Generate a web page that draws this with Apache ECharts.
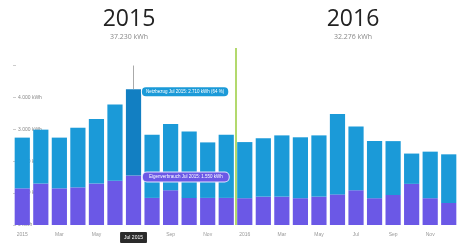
<!DOCTYPE html>
<html>
<head>
<meta charset="utf-8">
<script src="https://cdn.jsdelivr.net/npm/echarts@6/dist/echarts.min.js"></script>
<style>
html, body { margin: 0; padding: 0; background: #fff; }
#chart { width: 458px; height: 243px; }
</style>
</head>
<body>
<div id="chart"></div>
<script>
// months, the axis only labels every other one
var months = ['2015','Feb','Mar','Apr','May','Jun','Jul 2015','Aug','Sep','Oct','Nov','Dec',
              '2016','Feb','Mar','Apr','May','Jun','Jul','Aug','Sep','Oct','Nov','Dec'];

// kWh per month, purple part at the bottom, blue part stacked on top
var purple2015 = [1150, 1300, 1150, 1180, 1300, 1390, 1550, 850, 1090, 850, 850, 850];
var blue2015   = [1590, 1690, 1590, 1870, 2020, 2390, 2710, 1980, 2080, 2080, 1740, 1980];
var purple2016 = [840, 890, 890, 840, 890, 960, 1090, 840, 940, 1290, 840, 690];
var blue2016   = [1760, 1830, 1920, 1910, 1920, 2520, 2000, 1790, 1690, 950, 1460, 1526];

var yearTitles = ['2015', '2016'];
var yearTotals = ['37.230 kWh', '32.276 kWh'];

var selected = 6; // Jul 2015
var blueLabel = 'Netzbezug Jul 2015: 2.710 kWh (64 %)';
var purpleLabel = 'Eigenverbrauch Jul 2015: 1.550 kWh';

var chart = echarts.init(document.getElementById('chart'));

var purpleData = purple2015.concat(purple2016);
var blueData = blue2015.concat(blue2016);

var blueSeriesData = blueData.map(function(v, i){
	if(i !== selected) return v;
	return {
		value: v,
		itemStyle: { color: '#127fc2' },
		label: {
			show: true,
			position: [16, -2],
			formatter: blueLabel,
			backgroundColor: '#1b9ad8',
			borderColor: '#fff',
			borderWidth: 1,
			borderRadius: 4,
			padding: [2, 4],
			color: '#fff',
			fontSize: 4.5
		}
	};
});

var purpleSeriesData = purpleData.map(function(v, i){
	if(i !== selected) return v;
	return {
		value: v,
		label: {
			show: true,
			position: [17, -3],
			formatter: purpleLabel,
			backgroundColor: '#6b58e6',
			borderColor: '#e8e4ff',
			borderWidth: 1,
			borderRadius: 4,
			padding: [2, 6],
			color: '#fff',
			fontSize: 4.5
		}
	};
});

var option = {
	animation: false,
	title: [{
		text: yearTitles[0],
		subtext: yearTotals[0],
		left: 124,
		top: 3,
		textAlign: 'center',
		itemGap: 2,
		textStyle: { fontSize: 23, fontWeight: 'normal', color: '#222', fontFamily: 'Open Sans' },
		subtextStyle: { fontSize: 7, color: '#888', fontFamily: 'Open Sans' }
	}, {
		text: yearTitles[1],
		subtext: yearTotals[1],
		left: 348,
		top: 3,
		textAlign: 'center',
		itemGap: 2,
		textStyle: { fontSize: 23, fontWeight: 'normal', color: '#222', fontFamily: 'Open Sans' },
		subtextStyle: { fontSize: 7, color: '#888', fontFamily: 'Open Sans' }
	}],
	grid: {
		left: 13,
		right: 0,
		top: 48,
		bottom: 12
	},
	xAxis: [{
		type: 'category',
		data: months,
		axisLine: { show: false },
		axisTick: { show: false },
		axisLabel: {
			interval: 1,
			fontSize: 5,
			color: '#999',
			margin: 7,
			formatter: function(v, i){
				return i === selected ? '{hl|' + v + '}' : v;
			},
			rich: {
				hl: {
					backgroundColor: '#2a2a2a',
					color: '#fff',
					fontSize: 5,
					padding: [3, 4],
					borderRadius: 1
				}
			}
		},
		splitLine: { show: false }
	}, {
		type: 'value',
		min: 0,
		max: 24,
		show: false
	}],
	yAxis: {
		type: 'value',
		min: 0,
		max: 5550,
		interval: 1000,
		axisLine: { show: false },
		axisTick: { show: true, inside: true, length: 3, lineStyle: { color: '#ccc' } },
		splitLine: { show: false },
		axisLabel: {
			inside: true,
			showMaxLabel: false,
			margin: 5,
			fontSize: 5,
			color: '#888',
			formatter: function(v){
				if(v >= 5000) return '';
				return v.toLocaleString('de-DE') + ' kWh';
			}
		}
	},
	series: [{
		name: 'Eigenverbrauch',
		type: 'bar',
		stack: 'total',
		barCategoryGap: '18%',
		itemStyle: { color: '#6b58e6' },
		data: purpleSeriesData
	}, {
		name: 'Netzbezug',
		type: 'bar',
		stack: 'total',
		barCategoryGap: '18%',
		itemStyle: { color: '#1b9ad8' },
		data: blueSeriesData,
		markLine: {
			silent: true,
			symbol: 'none',
			label: { show: false },
			lineStyle: { color: '#aaa', width: 1, type: 'solid' },
			data: [[
				{ coord: [selected, 5000] },
				{ coord: [selected, purpleData[selected] + blueData[selected]] }
			]]
		}
	}, {
		name: 'split',
		type: 'line',
		xAxisIndex: 1,
		data: [],
		markLine: {
			silent: true,
			symbol: 'none',
			label: { show: false },
			lineStyle: { color: '#9acd3c', width: 1.5, type: 'solid' },
			data: [{ xAxis: 12 }]
		}
	}]
};

chart.setOption(option);
</script>
</body>
</html>
